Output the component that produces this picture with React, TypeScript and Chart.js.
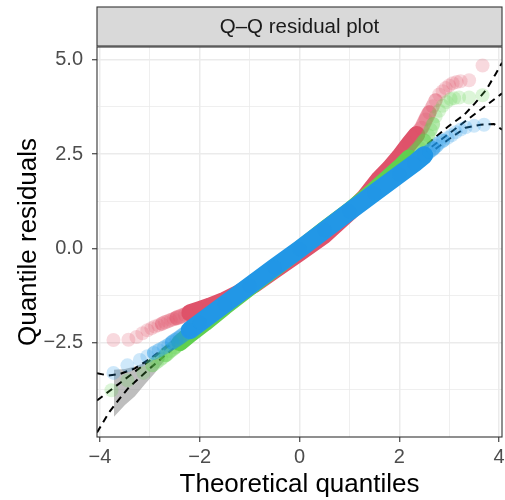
import React, { useEffect, useRef } from "react";
import { Chart, registerables } from "chart.js";

Chart.register(...registerables);

// ---------- text ----------
const stripLabel = "Q–Q residual plot";
const xTitle = "Theoretical quantiles";
const yTitle = "Quantile residuals";

// ---------- axes ----------
const xMajor = [-4, -2, 0, 2, 4];
const xMajorLabels = ["−4", "−2", "0", "2", "4"];
const xMinor = [-3, -1, 1, 3];
const yMajor = [-2.5, 0, 2.5, 5];
const yMajorLabels = ["−2.5", "0.0", "2.5", "5.0"];
const yMinor = [-3.75, -1.25, 1.25, 3.75];
const xLimits = [-4.06, 4.06];
const yLimits = [-5.0, 5.34];

// ---------- series (theoretical quantile, residual) ----------
const redX = [-3.73, -3.43, -3.27, -3.15, -3.05, -2.97, -2.9, -2.83, -2.76, -2.7, -2.64, -2.58, -2.52, -2.46, -2.4, -2.3, -2.2, -2.0, -1.8, -1.5, -1.2, -0.9, -0.5, 0, 0.5, 1.0, 1.3, 1.6, 1.8, 2.0, 2.2, 2.35, 2.45, 2.53, 2.6, 2.67, 2.73, 2.8, 2.87, 2.93, 3.0, 3.07, 3.15, 3.23, 3.4, 3.67];
const redY = [-2.43, -2.42, -2.35, -2.25, -2.17, -2.12, -2.07, -2.04, -2.0, -1.96, -1.93, -1.9, -1.87, -1.84, -1.81, -1.76, -1.71, -1.62, -1.53, -1.37, -1.17, -0.95, -0.58, -0.12, 0.35, 0.95, 1.35, 1.85, 2.12, 2.43, 2.78, 3.02, 3.2, 3.42, 3.6, 3.77, 3.93, 4.08, 4.17, 4.25, 4.32, 4.38, 4.41, 4.43, 4.46, 4.85];

const greenX = [-3.77, -3.45, -3.13, -2.95, -2.85, -2.77, -2.68, -2.6, -2.5, -2.4, -2.2, -1.9, -1.5, -1.0, -0.5, 0, 0.5, 1.0, 1.5, 2.0, 2.2, 2.4, 2.5, 2.58, 2.63, 2.68, 2.73, 2.8, 2.87, 2.95, 3.03, 3.1, 3.2, 3.4, 3.67];
const greenY = [-3.76, -3.5, -3.3, -3.1, -3.0, -2.92, -2.82, -2.72, -2.62, -2.5, -2.28, -1.98, -1.55, -1.04, -0.53, -0.02, 0.5, 1.0, 1.55, 2.14, 2.4, 2.67, 2.85, 3.0, 3.15, 3.3, 3.5, 3.65, 3.78, 3.88, 3.96, 3.98, 4.0, 4.0, 4.06];

const blueX = [-3.73, -3.45, -3.2, -3.05, -2.92, -2.82, -2.72, -2.63, -2.55, -2.47, -2.4, -2.2, -2.0, -1.5, -1.0, -0.5, 0, 0.5, 1.0, 1.5, 2.0, 2.3, 2.5, 2.6, 2.68, 2.75, 2.8, 2.88, 2.97, 3.05, 3.13, 3.23, 3.33, 3.5, 3.7];
const blueY = [-3.3, -3.1, -2.96, -2.86, -2.77, -2.7, -2.63, -2.56, -2.49, -2.42, -2.36, -2.17, -1.97, -1.48, -0.99, -0.5, -0.02, 0.48, 0.98, 1.47, 1.96, 2.25, 2.47, 2.57, 2.65, 2.72, 2.8, 2.86, 2.93, 3.0, 3.08, 3.15, 3.21, 3.25, 3.28];

// ---------- reference line and envelope ----------
const refX = [-4.06, 4.06];
const refY = [-4.03, 4.11];
const upperBandX = [-4.06, -3.83, -3.6, -3.3, -3.0, -2.5, -2.0, -1.0, 0, 1.0, 2.0, 2.5, 3.0, 3.3, 3.52, 3.75, 3.93, 4.06];
const upperBandY = [-3.31, -3.37, -3.33, -3.18, -2.93, -2.42, -1.9, -0.9, 0.1, 1.1, 2.15, 2.7, 3.25, 3.54, 3.85, 4.22, 4.62, 4.92];
const lowerBandX = [-4.06, -3.83, -3.63, -3.43, -3.2, -3.0, -2.5, -2.0, -1.0, 0, 1.0, 2.0, 2.5, 3.0, 3.33, 3.63, 3.9, 4.06];
const lowerBandY = [-4.88, -4.37, -4.02, -3.7, -3.42, -3.18, -2.62, -2.08, -1.05, -0.04, 0.95, 1.93, 2.42, 2.9, 3.2, 3.28, 3.3, 3.15];

// ---------- grey ribbon ----------
const ribbonX = [-3.72, -3.5, -3.3, -3.1, -2.9, -2.7];
const ribbonUpper = [-3.22, -3.2, -3.13, -3.03, -2.93, -2.8];
const ribbonLower = [-4.46, -4.15, -3.92, -3.6, -3.3, -2.95];

// ---------- styles ----------
const FONT = '"Liberation Sans", Arial, Helvetica, sans-serif';
const COLORS = { red: "223,83,107", green: "97,208,79", blue: "34,151,230" };

const pts = (xs: number[], ys: number[]) => xs.map((x, i) => ({ x, y: ys[i] }));
const inRange = (xs: number[], ys: number[], lo: number, hi: number) =>
  pts(xs, ys).filter((p) => p.x >= lo && p.x <= hi);

type Range = [number, number];

function seriesDatasets(xs: number[], ys: number[], rgb: string, core: Range, mid: Range, outer: Range, baseOrder: number, width: number) {
  const band = (r: Range, alpha: number, w: number, order: number) => ({
    label: "band",
    data: inRange(xs, ys, r[0], r[1]),
    showLine: true,
    borderColor: `rgba(${rgb},${alpha})`,
    borderWidth: w,
    borderCapStyle: "round",
    borderJoinStyle: "round",
    pointRadius: 0,
    order,
  });
  return [
    band(outer, 0.3, 14, baseOrder + 3),
    band(mid, 0.45, 15, baseOrder + 2),
    band(core, 1, width, baseOrder + 1),
    {
      label: "points",
      data: pts(xs, ys),
      showLine: false,
      pointRadius: 7,
      pointBorderWidth: 0,
      backgroundColor: `rgba(${rgb},0.22)`,
      borderColor: "rgba(0,0,0,0)",
      order: baseOrder,
    },
  ];
}

const ggPlugin = {
  id: "ggframe",
  afterDraw(chart: any) {
    const { ctx, chartArea: a } = chart;
    ctx.save();
    // panel border
    ctx.strokeStyle = "#333333";
    ctx.lineWidth = 1.1;
    ctx.strokeRect(a.left, a.top, a.right - a.left, a.bottom - a.top);
    // strip
    const sTop = 7;
    const sBot = a.top - 1;
    ctx.fillStyle = "#D9D9D9";
    ctx.fillRect(a.left, sTop, a.right - a.left, sBot - sTop);
    ctx.strokeRect(a.left, sTop, a.right - a.left, sBot - sTop);
    ctx.fillStyle = "#1A1A1A";
    ctx.font = `20.5px ${FONT}`;
    ctx.textAlign = "center";
    ctx.textBaseline = "middle";
    ctx.fillText(stripLabel, (a.left + a.right) / 2, (sTop + sBot) / 2 + 1);
    // axis titles
    ctx.fillStyle = "#000000";
    ctx.font = `26px ${FONT}`;
    ctx.fillText(xTitle, (a.left + a.right) / 2, 485);
    ctx.translate(29, (a.top + a.bottom) / 2);
    ctx.rotate(-Math.PI / 2);
    ctx.fillText(yTitle, 0, 0);
    ctx.restore();
  },
};

function makeScale(limits: number[], major: number[], minor: number[], labels: string[], isX: boolean) {
  const isMajor = (v: number) => major.some((m) => Math.abs(m - v) < 1e-9);
  return {
    type: "linear",
    min: limits[0],
    max: limits[1],
    afterBuildTicks: (scale: any) => {
      scale.ticks = [...major, ...minor].sort((p, q) => p - q).map((v) => ({ value: v }));
    },
    afterFit: (scale: any) => {
      if (isX) {
        scale.height = 63;
        scale.paddingLeft = 0;
        scale.paddingRight = 0;
      } else {
        scale.width = 97;
        scale.paddingTop = 0;
        scale.paddingBottom = 0;
      }
    },
    border: { display: false },
    grid: {
      color: "#EBEBEB",
      lineWidth: (c: any) => (c.tick && isMajor(c.tick.value) ? 1.5 : 0.8),
      tickLength: 5,
      tickColor: (c: any) => (c.tick && isMajor(c.tick.value) ? "#333333" : "rgba(0,0,0,0)"),
      tickWidth: 1.1,
      drawTicks: true,
    },
    ticks: {
      autoSkip: false,
      maxRotation: 0,
      minRotation: 0,
      padding: isX ? 3 : 9,
      color: "#4D4D4D",
      font: { family: FONT, size: 20 },
      callback: (v: number) => {
        const i = major.findIndex((m) => Math.abs(m - v) < 1e-9);
        return i >= 0 ? labels[i] : "";
      },
    },
  };
}

export default function App() {
  const ref = useRef<HTMLCanvasElement | null>(null);
  useEffect(() => {
    document.body.style.margin = "0";
    if (!ref.current) return;
    const datasets: any[] = [
      { label: "ribbonLow", data: pts(ribbonX, ribbonLower), showLine: true, borderWidth: 0, pointRadius: 0, borderColor: "rgba(0,0,0,0)", fill: false, order: 40 },
      { label: "ribbonHigh", data: pts(ribbonX, ribbonUpper), showLine: true, borderWidth: 0, pointRadius: 0, borderColor: "rgba(0,0,0,0)", backgroundColor: "rgba(125,125,125,0.5)", fill: 0, order: 39 },
      { label: "upper", data: pts(upperBandX, upperBandY), showLine: true, borderColor: "#000", borderWidth: 2, borderDash: [7, 5], pointRadius: 0, order: 35 },
      { label: "ref", data: pts(refX, refY), showLine: true, borderColor: "#000", borderWidth: 2, borderDash: [7, 5], pointRadius: 0, order: 35 },
      { label: "lower", data: pts(lowerBandX, lowerBandY), showLine: true, borderColor: "#000", borderWidth: 2, borderDash: [7, 5], pointRadius: 0, order: 35 },
      ...seriesDatasets(redX, redY, COLORS.red, [-2.2, 2.4], [-2.5, 2.6], [-2.8, 2.75], 26, 17),
      ...seriesDatasets(greenX, greenY, COLORS.green, [-2.45, 2.3], [-2.7, 2.55], [-2.95, 2.68], 18, 17),
      ...seriesDatasets(blueX, blueY, COLORS.blue, [-2.35, 2.5], [-2.6, 2.68], [-2.95, 2.9], 10, 18),
    ];
    const chart = new Chart(ref.current, {
      type: "scatter",
      data: { datasets },
      options: {
        animation: false,
        responsive: false,
        devicePixelRatio: 1,
        layout: { autoPadding: false, padding: { top: 47, right: 3, left: 0, bottom: 0 } },
        plugins: { legend: { display: false }, tooltip: { enabled: false }, title: { display: false } },
        scales: {
          x: makeScale(xLimits, xMajor, xMinor, xMajorLabels, true),
          y: makeScale(yLimits, yMajor, yMinor, yMajorLabels, false),
        },
      } as any,
      plugins: [ggPlugin],
    });
    return () => chart.destroy();
  }, []);
  return (
    <div style={{ width: 505, height: 500 }}>
      <canvas ref={ref} width={505} height={500} style={{ display: "block" }} />
    </div>
  );
}
